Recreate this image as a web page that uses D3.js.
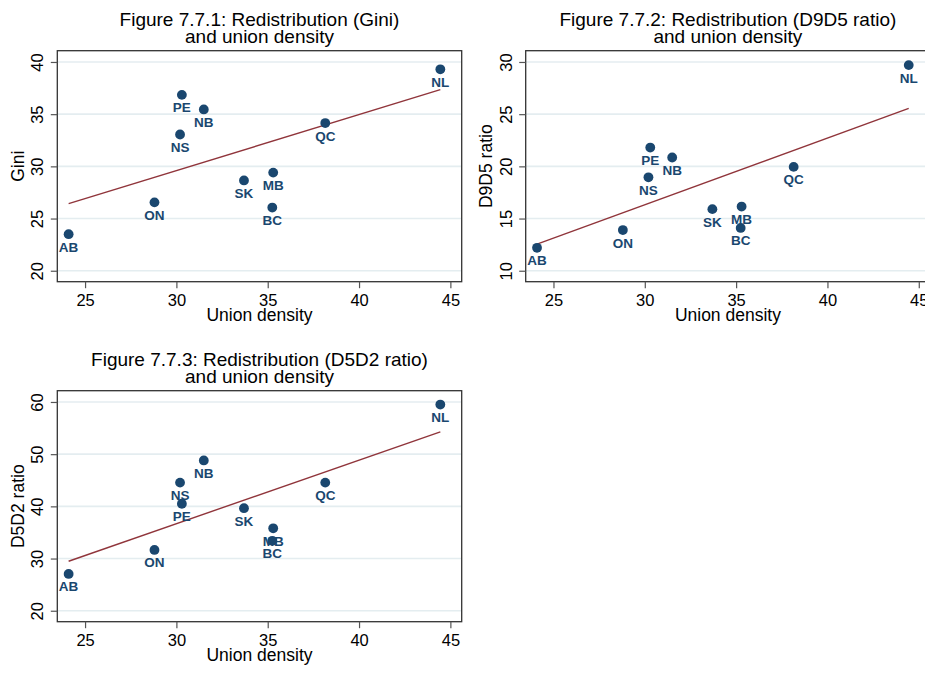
<!DOCTYPE html>
<html>
<head>
<meta charset="utf-8">
<script src="https://cdn.jsdelivr.net/npm/d3@7"></script>
<style>
  html, body { margin: 0; padding: 0; background: #ffffff; }
  svg { display: block; }
  text { font-family: "Liberation Sans", Arial, Helvetica, sans-serif; }
</style>
</head>
<body>
<svg id="chart" width="925" height="674"></svg>
<script>
// ---- Data ----
const provinces    = ["AB", "ON", "PE", "NB", "NS", "SK", "MB", "BC", "QC", "NL"];
const unionDensity = [24.1, 28.8, 30.3, 31.5, 30.2, 33.7, 35.3, 35.25, 38.15, 44.45];
const gini         = [23.5, 26.55, 36.85, 35.45, 33.05, 28.65, 29.4, 26.05, 34.15, 39.3];
const d9d5Ratio    = [12.2, 13.9, 21.8, 20.85, 18.95, 15.9, 16.15, 14.1, 19.95, 29.7];
const d5d2Ratio    = [27.05, 31.65, 40.5, 48.8, 44.55, 39.65, 35.8, 33.4, 44.55, 59.5];

const xTicks       = [25, 30, 35, 40, 45];
const giniTicks    = [20, 25, 30, 35, 40];
const d9d5Ticks    = [10, 15, 20, 25, 30];
const d5d2Ticks    = [20, 30, 40, 50, 60];

const titles = [
  ["Figure 7.7.1: Redistribution (Gini)", "and union density"],
  ["Figure 7.7.2: Redistribution (D9D5 ratio)", "and union density"],
  ["Figure 7.7.3: Redistribution (D5D2 ratio)", "and union density"]
];
const yTitles = ["Gini", "D9D5 ratio", "D5D2 ratio"];
const xTitle = "Union density";

// ---- Layout / style ----
const navy = "#1a476f", maroon = "#90353b", gridCol = "#e4edf0", frameCol = "#333333";
const panels = [
  { values: gini,      ticks: giniTicks, yDomain: [18.95, 41.08], left: 57.3,  top: 50.7,  title: titles[0], ytitle: yTitles[0] },
  { values: d9d5Ratio, ticks: d9d5Ticks, yDomain: [8.95, 31.08],  left: 525.7, top: 50.7,  title: titles[1], ytitle: yTitles[1] },
  { values: d5d2Ratio, ticks: d5d2Ticks, yDomain: [17.9, 62.16],  left: 57.3,  top: 390.7, title: titles[2], ytitle: yTitles[2] }
];
const plotW = 404.4, plotH = 231;
const xDomain = [23.48, 45.62];

const svg = d3.select("#chart");

function ols(xs, ys) {
  const mx = d3.mean(xs), my = d3.mean(ys);
  let sxy = 0, sxx = 0;
  xs.forEach((x, i) => { sxy += (x - mx) * (ys[i] - my); sxx += (x - mx) * (x - mx); });
  const b = sxy / sxx;
  return { a: my - b * mx, b };
}

panels.forEach(p => {
  const x = d3.scaleLinear().domain(xDomain).range([p.left, p.left + plotW]);
  const y = d3.scaleLinear().domain(p.yDomain).range([p.top + plotH, p.top]);
  const g = svg.append("g");
  const cx = p.left + plotW / 2, cy = p.top + plotH / 2;

  // gridlines
  g.append("g").selectAll("line").data(p.ticks).join("line")
    .attr("x1", p.left).attr("x2", p.left + plotW)
    .attr("y1", d => y(d)).attr("y2", d => y(d))
    .attr("stroke", gridCol).attr("stroke-width", 1.6);

  // fit line
  const fit = ols(unionDensity, p.values);
  const xr = d3.extent(unionDensity);
  g.append("line")
    .attr("x1", x(xr[0])).attr("y1", y(fit.a + fit.b * xr[0]))
    .attr("x2", x(xr[1])).attr("y2", y(fit.a + fit.b * xr[1]))
    .attr("stroke", maroon).attr("stroke-width", 1.4);

  // points
  const pts = provinces.map((name, i) => ({ name, x: unionDensity[i], y: p.values[i] }));
  g.append("g").selectAll("circle").data(pts).join("circle")
    .attr("cx", d => x(d.x)).attr("cy", d => y(d.y)).attr("r", 4.9)
    .attr("fill", navy);
  g.append("g").selectAll("text").data(pts).join("text")
    .attr("x", d => x(d.x)).attr("y", d => y(d.y) + 17.5)
    .attr("text-anchor", "middle")
    .attr("font-size", 13.5).attr("font-weight", "bold")
    .attr("fill", navy)
    .text(d => d.name);

  // frame
  g.append("rect")
    .attr("x", p.left).attr("y", p.top).attr("width", plotW).attr("height", plotH)
    .attr("fill", "none").attr("stroke", frameCol).attr("stroke-width", 1.3);

  // x axis
  const xa = g.append("g").attr("transform", `translate(0,${p.top + plotH})`)
    .call(d3.axisBottom(x).tickValues(xTicks).tickSize(6.5).tickFormat(d3.format("d")));
  xa.select(".domain").remove();
  xa.selectAll(".tick line").attr("stroke", "#555").attr("stroke-width", 1.2);
  xa.selectAll(".tick text").attr("y", 24.3).attr("dy", null)
    .attr("font-size", 16.5).attr("fill", "#000").attr("font-family", null);

  // y axis
  const ya = g.append("g").attr("transform", `translate(${p.left},0)`)
    .call(d3.axisLeft(y).tickValues(p.ticks).tickSize(6.5).tickFormat(d3.format("d")));
  ya.select(".domain").remove();
  ya.selectAll(".tick line").attr("stroke", "#555").attr("stroke-width", 1.2);
  ya.selectAll(".tick text").attr("x", null).attr("dy", null)
    .attr("transform", "translate(-14,0) rotate(-90)")
    .attr("text-anchor", "middle")
    .attr("font-size", 16.5).attr("fill", "#000").attr("font-family", null);

  // axis titles
  g.append("text")
    .attr("x", cx).attr("y", p.top + plotH + 39.3)
    .attr("text-anchor", "middle").attr("font-size", 17.5).attr("fill", "#000")
    .text(xTitle);
  g.append("text")
    .attr("transform", `translate(${p.left - 33.5},${cy}) rotate(-90)`)
    .attr("text-anchor", "middle").attr("font-size", 17.5).attr("fill", "#000")
    .text(p.ytitle);

  // title
  g.append("text")
    .attr("x", cx).attr("y", p.top - 24.7)
    .attr("text-anchor", "middle").attr("font-size", 19).attr("fill", "#000")
    .text(p.title[0]);
  g.append("text")
    .attr("x", cx).attr("y", p.top - 8.2)
    .attr("text-anchor", "middle").attr("font-size", 19).attr("fill", "#000")
    .text(p.title[1]);
});
</script>
</body>
</html>
